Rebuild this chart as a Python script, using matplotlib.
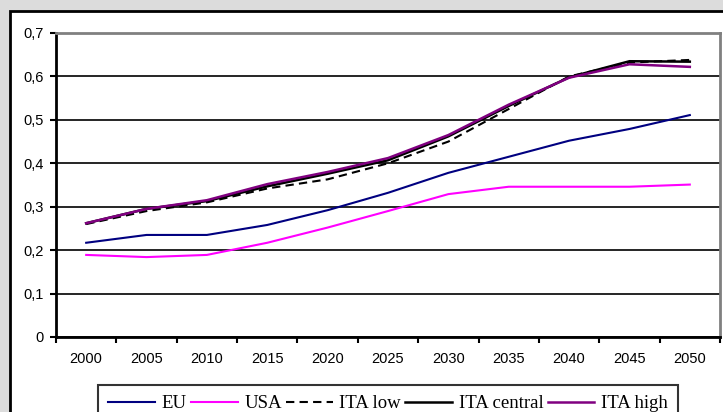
import matplotlib
matplotlib.use("Agg")
import matplotlib.pyplot as plt
from matplotlib.patches import Rectangle
from matplotlib.ticker import FixedLocator, FuncFormatter

years = ["2000", "2005", "2010", "2015", "2020", "2025", "2030", "2035", "2040", "2045", "2050"]
eu = [0.217, 0.235, 0.235, 0.258, 0.292, 0.332, 0.378, 0.415, 0.452, 0.479, 0.511]
usa = [0.189, 0.184, 0.189, 0.217, 0.252, 0.290, 0.329, 0.346, 0.346, 0.346, 0.351]
ita_low = [0.260, 0.290, 0.310, 0.342, 0.363, 0.400, 0.450, 0.525, 0.600, 0.632, 0.638]
ita_central = [0.262, 0.295, 0.313, 0.347, 0.376, 0.407, 0.462, 0.532, 0.598, 0.635, 0.634]
ita_high = [0.262, 0.295, 0.315, 0.352, 0.380, 0.412, 0.465, 0.535, 0.597, 0.628, 0.622]
yticks = [0.0, 0.1, 0.2, 0.3, 0.4, 0.5, 0.6, 0.7]

W, H = 723, 412
fig = plt.figure(figsize=(W / 100, H / 100), dpi=100)
fig.patch.set_facecolor("#dcdcdc")
bg = Rectangle((10 / W, -0.05), 1, 1.05 - 11 / H, transform=fig.transFigure,
               facecolor="white", edgecolor="black", linewidth=2, zorder=-5)
fig.patches.append(bg)

ax = fig.add_axes([56 / W, 1 - 337 / H, (720 - 56) / W, (337 - 33) / H])
ax.set_zorder(1)
ax.set_facecolor("white")
x = list(range(len(years)))

ax.plot(x, eu, color="#000080", lw=1.5, label="EU", zorder=3)
ax.plot(x, usa, color="#ff00ff", lw=1.5, label="USA", zorder=3)
ax.plot(x, ita_low, color="black", lw=1.5, ls=(0, (4, 2.5)), label="ITA low", zorder=4)
ax.plot(x, ita_central, color="black", lw=1.8, label="ITA central", zorder=5)
ax.plot(x, ita_high, color="#800080", lw=1.8, label="ITA high", zorder=6)

ax.set_xlim(-0.5, len(years) - 0.5)
ax.set_ylim(0, 0.7)
ax.xaxis.set_major_locator(FixedLocator([i - 0.5 for i in range(len(years) + 1)]))
ax.xaxis.set_major_formatter(FuncFormatter(lambda v, p: ""))
ax.xaxis.set_minor_locator(FixedLocator(x))
ax.set_xticklabels(years, minor=True)
ax.tick_params(axis="x", which="major", length=4, width=1.5, direction="out")
ax.tick_params(axis="x", which="minor", length=0, pad=11, labelsize=10.5)
ax.set_yticks(yticks)
ax.set_yticklabels([("%.1f" % v).replace(".", ",") if v > 0 else "0" for v in yticks])
ax.tick_params(axis="y", length=4, width=1.5, direction="out", labelsize=10.5, pad=5)
for lab in ax.get_xticklabels(minor=True) + ax.get_yticklabels():
    lab.set_fontfamily("Liberation Sans")

ax.yaxis.grid(True, color="black", lw=1.2)
ax.set_axisbelow(True)
for s in ["left", "bottom"]:
    ax.spines[s].set_color("black")
    ax.spines[s].set_linewidth(2)
for s in ["top", "right"]:
    ax.spines[s].set_color("#808080")
    ax.spines[s].set_linewidth(2)

leg = fig.legend(loc="upper left", bbox_to_anchor=(98 / W, 1 - 385 / H, (678 - 98) / W, 0),
                 mode="expand", ncol=5, frameon=True, fancybox=False, edgecolor="black",
                 prop={"family": "Liberation Serif", "size": 13.5}, handlelength=2.5,
                 handletextpad=0.35, columnspacing=0.4, borderpad=0.55, borderaxespad=0)
leg.get_frame().set_linewidth(1.5)
leg.set_zorder(2)

fig.savefig("out.png", dpi=100, facecolor=fig.get_facecolor())
